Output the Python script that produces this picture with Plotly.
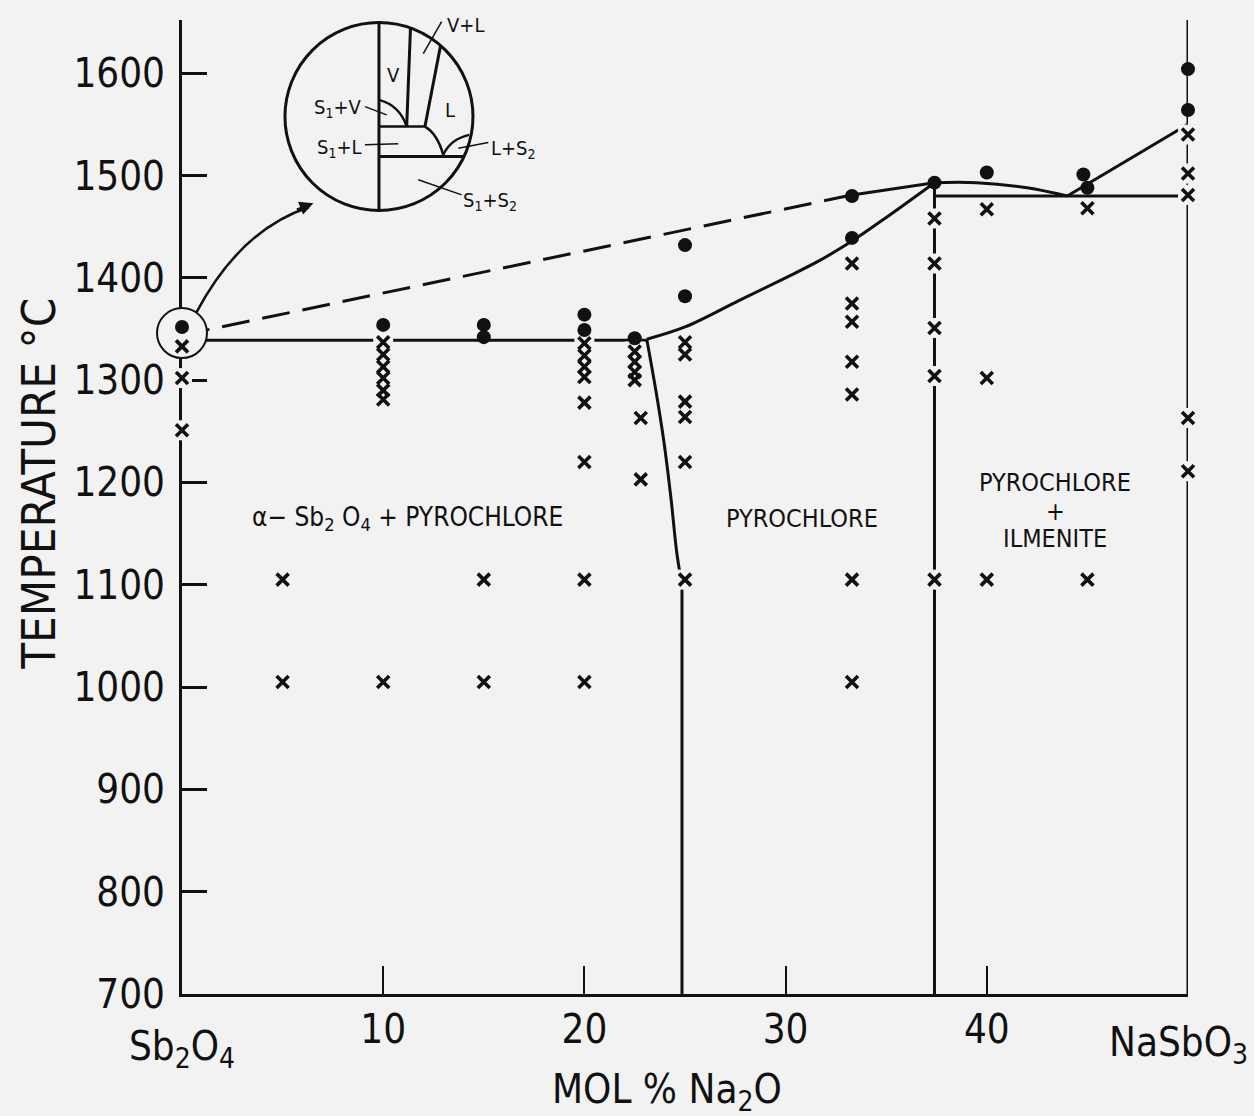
import plotly.graph_objects as go

# ---------------- data ----------------
# filled circles (melting observed)
dot_x = [0, 10, 15, 15, 20, 20, 22.5, 25, 25, 33.3, 33.3, 37.4, 40, 44.8, 45, 50, 50]
dot_T = [1352, 1354, 1354, 1342, 1364, 1349, 1341, 1432, 1382, 1480, 1439, 1493, 1503, 1501, 1488, 1604, 1564]

# crosses (no melting)
cross_x = ([0, 0, 0] + [5, 5] + [10] * 7 + [15, 15] + [20] * 8 + [22.5] * 4 + [22.8, 22.8]
           + [25] * 6 + [33.3] * 7 + [37.4] * 5 + [40] * 3 + [45] * 2 + [50] * 5)
cross_T = ([1333, 1302, 1251]
           + [1105, 1005]
           + [1337, 1325, 1313, 1302, 1290, 1281, 1005]
           + [1105, 1005]
           + [1336, 1324, 1313, 1303, 1278, 1220, 1105, 1005]
           + [1328, 1318, 1308, 1300]
           + [1263, 1203]
           + [1337, 1325, 1279, 1264, 1220, 1105]
           + [1414, 1375, 1357, 1318, 1286, 1105, 1005]
           + [1458, 1414, 1351, 1304, 1105]
           + [1467, 1302, 1105]
           + [1468, 1105]
           + [1540, 1502, 1481, 1263, 1211])

# phase boundaries
eut_x, eut_T = [0, 23.1], [1339, 1339]
liq_x = [23.1, 25, 27.7, 30, 31.7, 33.3, 35, 37.4]
liq_T = [1340, 1352, 1378, 1400, 1417, 1436, 1459, 1493]
dash_x, dash_T = [0, 33.3], [1344, 1481]
upper_x, upper_T = [33.3, 37.4], [1481, 1493]
sol_x = [23.1, 23.55, 23.95, 24.3, 24.6, 24.85]
sol_T = [1340, 1290, 1240, 1185, 1130, 1100]
v25_x, v25_T = [24.85, 24.85], [700, 1100]
v375_x, v375_T = [37.4, 37.4], [700, 1493]
dome_x = [37.4, 39.5, 42.0, 44.0]
dome_T = [1493, 1493, 1488, 1480]
hor_x, hor_T = [37.4, 50], [1480, 1480]
rliq_x, rliq_T = [44.0, 50], [1480, 1550]
v50_x, v50_T = [50, 50], [700, 1652]

y_ticks = [700, 800, 900, 1000, 1100, 1200, 1300, 1400, 1500, 1600]
x_ticks = [10, 20, 30, 40]

BG = "#f2f2f2"
INK = "#111111"
FONT = "DejaVu Sans Condensed, Liberation Sans Narrow, Roboto, sans-serif"

fig = go.Figure()


def line(x, y, dash="solid", shape="linear", w=3):
    fig.add_trace(go.Scatter(x=x, y=y, mode="lines", line=dict(color=INK, width=w, dash=dash, shape=shape),
                             hoverinfo="skip"))


line(eut_x, eut_T)
line(liq_x, liq_T, shape="spline")
line(dash_x, dash_T, dash="28px,13px")
line(upper_x, upper_T)
line(sol_x, sol_T, shape="spline")
line(v25_x, v25_T)
line(v375_x, v375_T)
line(dome_x, dome_T, shape="spline")
line(hor_x, hor_T)
line(rliq_x, rliq_T)
line(v50_x, v50_T)

# background patches that break lines around the crosses
fig.add_trace(go.Scatter(x=cross_x, y=cross_T, mode="markers", cliponaxis=False, hoverinfo="skip",
                         marker=dict(symbol="square", size=20, color=BG, line=dict(width=0))))

# small circle around the Sb2O4 points
fig.add_trace(go.Scatter(x=[0], y=[1346], mode="markers", cliponaxis=False, hoverinfo="skip",
                         marker=dict(symbol="circle", size=50, color=BG, line=dict(color=INK, width=2))))

fig.add_trace(go.Scatter(x=cross_x, y=cross_T, mode="markers", cliponaxis=False,
                         marker=dict(symbol="x-thin", size=12, color=INK, line=dict(color=INK, width=3.6))))
fig.add_trace(go.Scatter(x=dot_x, y=dot_T, mode="markers", cliponaxis=False,
                         marker=dict(symbol="circle", size=14, color=INK, line=dict(width=0))))

# ---------------- inset (schematic, local unit-circle coordinates) ----------------
cx, cT, rx, rT = 9.79, 1557.6, 4.672, 91.84


def P(u, v):
    return cx + u * rx, cT + v * rT


shapes = []
shapes.append(dict(type="circle", xref="x", yref="y", x0=cx - rx, x1=cx + rx, y0=cT - rT, y1=cT + rT,
                   line=dict(color=INK, width=3)))


def seg(a, b, w=3):
    (x0, y0), (x1, y1) = P(*a), P(*b)
    shapes.append(dict(type="line", xref="x", yref="y", x0=x0, y0=y0, x1=x1, y1=y1,
                       line=dict(color=INK, width=w)))


def quad(a, c, b, w=3):
    (x0, y0), (xc, yc), (x1, y1) = P(*a), P(*c), P(*b)
    shapes.append(dict(type="path", xref="x", yref="y", path=f"M {x0},{y0} Q {xc},{yc} {x1},{y1}",
                       line=dict(color=INK, width=w)))


seg((0, 1), (0, -1))
seg((0.335, 0.94), (0.295, -0.106))
seg((0.655, 0.755), (0.489, -0.106))
seg((0, -0.106), (0.489, -0.106), 2.5)
quad((0, 0.178), (0.22, 0.12), (0.295, -0.106), 2.5)
quad((0.489, -0.106), (0.62, -0.18), (0.684, -0.407), 2.5)
quad((0.684, -0.407), (0.76, -0.24), (0.961, -0.195), 2.5)
seg((0, -0.426), (0.905, -0.426))
# leader lines
seg((0.667, 1.01), (0.471, 0.67), 1.5)
seg((-0.149, 0.106), (0.082, 0.018), 1.5)
seg((-0.149, -0.301), (0.205, -0.29), 1.5)
seg((0.844, -0.336), (1.163, -0.277), 1.5)
seg((0.418, -0.673), (0.88, -0.833), 1.5)

# curved arrow from the small circle to the inset
shapes.append(dict(type="path", xref="x", yref="y", path="M 0.71,1366 Q 2.9,1447 6.3,1469",
                   line=dict(color=INK, width=2.5)))

annotations = []


def txt(text, x, y, size, xanchor="center", xref="x", yref="y", angle=0, yanchor="middle"):
    annotations.append(dict(text=text, x=x, y=y, xref=xref, yref=yref, showarrow=False, xanchor=xanchor,
                            yanchor=yanchor, textangle=angle, font=dict(family=FONT, size=size, color=INK)))


IS = 20
ux, uy = P(0.925, 0.98); txt("V+L", ux, uy, IS)
ux, uy = P(0.152, 0.444); txt("V", ux, uy, IS)
ux, uy = P(0.755, 0.071); txt("L", ux, uy, IS)
ux, uy = P(-0.16, 0.09); txt("S<sub>1</sub>+V", ux, uy, IS, xanchor="right")
ux, uy = P(-0.155, -0.33); txt("S<sub>1</sub>+L", ux, uy, IS, xanchor="right")
ux, uy = P(1.17, -0.345); txt("L+S<sub>2</sub>", ux, uy, IS, xanchor="left")
ux, uy = P(0.87, -0.9); txt("S<sub>1</sub>+S<sub>2</sub>", ux, uy, IS, xanchor="left")

annotations.append(dict(x=6.53, y=1473, xref="x", yref="y", ax=-18, ay=7, axref="pixel", ayref="pixel",
                        showarrow=True, arrowhead=2, arrowsize=1.1, arrowwidth=2.5, arrowcolor=INK, text=""))

# phase-field labels
LS = 26
txt("α− Sb<sub>2</sub> O<sub>4</sub> + PYROCHLORE", 11.2, 1165, LS)
txt("PYROCHLORE", 30.8, 1165, LS - 1)
txt("PYROCHLORE", 43.4, 1200, LS - 1)
txt("+", 43.4, 1172, LS - 1)
txt("ILMENITE", 43.4, 1145, LS - 1)

# end-member labels and axis titles
txt("Sb<sub>2</sub>O<sub>4</sub>", 0, -0.056, 40, yref="paper")
txt("NaSbO<sub>3</sub>", 1.0616, -0.052, 40, xref="paper", yref="paper", xanchor="right")
txt("MOL % Na<sub>2</sub>O", 0.482, -0.101, 40, xref="paper", yref="paper")
txt("TEMPERATURE °C", -0.143, 0.524, 47, xref="paper", yref="paper", angle=-90)

fig.update_layout(
    width=1254, height=1116,
    margin=dict(l=182, r=66, t=20, b=122, pad=0),
    paper_bgcolor=BG, plot_bgcolor=BG,
    showlegend=False,
    shapes=shapes, annotations=annotations,
    font=dict(family=FONT, color=INK),
    xaxis=dict(range=[0, 50], showline=True, linecolor=INK, linewidth=3, ticks="inside", ticklen=28,
               tickwidth=2, tickcolor=INK, tickvals=x_ticks, ticktext=[str(t) for t in x_ticks],
               tickfont=dict(size=40, family=FONT, color=INK), showgrid=False, zeroline=False,
               ticklabelstandoff=-2, layer="below traces", fixedrange=True),
    yaxis=dict(range=[700, 1652], showline=True, linecolor=INK, linewidth=3, ticks="inside", ticklen=25,
               tickwidth=2.5, tickcolor=INK, tickvals=y_ticks, ticktext=[str(t) for t in y_ticks],
               tickfont=dict(size=40, family=FONT, color=INK), showgrid=False, zeroline=False,
               ticklabelstandoff=6, layer="below traces", fixedrange=True),
)

fig.write_html("out.html", config={"displayModeBar": False},
               post_script="document.body.style.margin='0px';document.body.style.overflow='hidden';"
                           "document.body.style.background='#f2f2f2';")
